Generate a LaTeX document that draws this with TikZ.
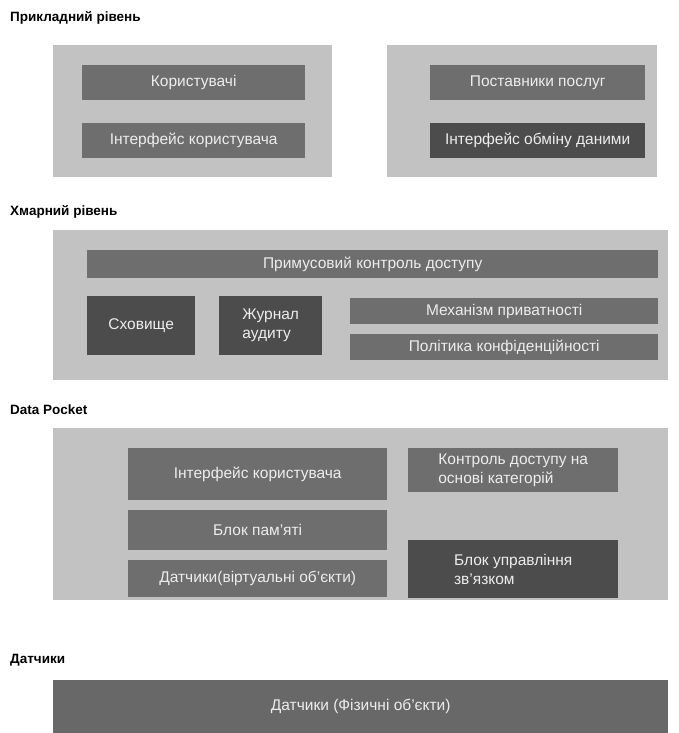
\documentclass[tikz,border=0pt]{standalone}
\usepackage{fontspec}
\setmainfont{Liberation Sans}
\definecolor{panelgray}{HTML}{C2C2C2}
\definecolor{boxgray}{HTML}{6E6E6E}
\definecolor{boxdark}{HTML}{4C4C4C}
\definecolor{boxtext}{HTML}{EDEDED}
\tikzset{
  panel/.style={fill=panelgray, draw=none, anchor=north west, inner sep=0pt},
  box/.style={fill=boxgray, text=boxtext, anchor=north west, inner sep=0pt,
    font=\fontsize{15.5}{19}\selectfont, align=left},
  dbox/.style={box, fill=boxdark},
  layertitle/.style={anchor=west, inner sep=0pt, font=\fontsize{13.5}{15}\selectfont\bfseries}
}
\begin{document}
\begin{tikzpicture}[x=1pt,y=-1pt]
\useasboundingbox[fill=white] (0,0) rectangle (678,733);

% Application layer
\node[layertitle] (t1) at (10,18) {Прикладний рівень};
\node[panel, minimum width=279pt, minimum height=132pt] (p1l) at (53,45) {};
\node[panel, minimum width=270pt, minimum height=132pt] (p1r) at (387,45) {};
\node[box, minimum width=223pt, minimum height=35pt] (users) at (82,65) {Користувачі};
\node[box, minimum width=223pt, minimum height=35pt] (ui1) at (82,123) {Інтерфейс користувача};
\node[box, minimum width=215pt, minimum height=35pt] (prov) at (430,65) {Поставники послуг};
\node[dbox, minimum width=215pt, minimum height=35pt] (xchg) at (430,123) {Інтерфейс обміну даними};

% Cloud layer
\node[layertitle] (t2) at (10,212) {Хмарний рівень};
\node[panel, minimum width=615pt, minimum height=150pt] (p2) at (53,230) {};
\node[box, minimum width=571pt, minimum height=28pt] (mac) at (87,250) {Примусовий контроль доступу};
\node[dbox, minimum width=108pt, minimum height=59pt] (store) at (87,296) {Сховище};
\node[dbox, minimum width=103pt, minimum height=59pt] (audit) at (219,296) {Журнал\\аудиту};
\node[box, minimum width=308pt, minimum height=26pt] (priv) at (350,298) {Механізм приватності};
\node[box, minimum width=308pt, minimum height=26pt] (policy) at (350,334) {Політика конфіденційності};

% Data Pocket
\node[layertitle] (t3) at (10,410) {Data Pocket};
\node[panel, minimum width=615pt, minimum height=172pt] (p3) at (53,428) {};
\node[box, minimum width=259pt, minimum height=52pt] (ui2) at (128,448) {Інтерфейс користувача};
\node[box, minimum width=259pt, minimum height=40pt] (mem) at (128,510) {Блок пам’яті};
\node[box, minimum width=259pt, minimum height=37pt] (vsens) at (128,560) {Датчики(віртуальні об’єкти)};
\node[box, minimum width=210pt, minimum height=44pt] (cbac) at (408,448) {Контроль доступу на\\основі категорій};
\node[dbox, minimum width=210pt, minimum height=58pt] (comm) at (408,540) {Блок управління\\зв’язком};

% Sensors
\node[layertitle] (t4) at (10,660) {Датчики};
\node[box, fill=boxgray!95!black, minimum width=615pt, minimum height=53pt] (phys) at (53,680) {Датчики (Фізичні об’єкти)};
\end{tikzpicture}
\end{document}
